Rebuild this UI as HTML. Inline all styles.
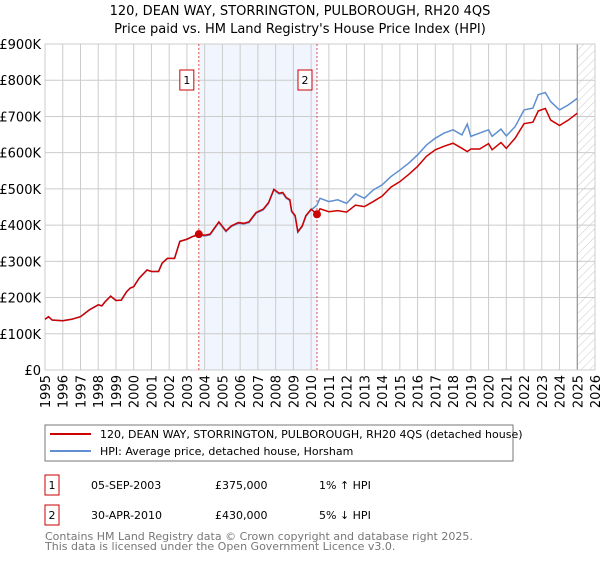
<!DOCTYPE html>
<html><head><meta charset="utf-8"><style>
body{margin:0;background:#fff;font-family:"DejaVu Sans","Liberation Sans",sans-serif}
svg text{font-family:"DejaVu Sans","Liberation Sans",sans-serif}
</style></head><body>
<svg width="600" height="560" viewBox="0 0 600 560" xmlns="http://www.w3.org/2000/svg">
<defs><pattern id="hatch" width="6" height="6" patternUnits="userSpaceOnUse" patternTransform="rotate(45)"><line x1="0" y1="0" x2="0" y2="6" stroke="#bbb" stroke-width="0.8"/></pattern></defs>
<text x="300" y="15" text-anchor="middle" font-size="13">120, DEAN WAY, STORRINGTON, PULBOROUGH, RH20 4QS</text>
<text x="300" y="33" text-anchor="middle" font-size="13">Price paid vs. HM Land Registry's House Price Index (HPI)</text>
<g id="plot"></g>
<rect x="45" y="425" width="468" height="36" fill="none" stroke="#777"/>
<line x1="50" y1="434" x2="91" y2="434" stroke="#cc0000" stroke-width="2"/>
<text x="100" y="438" font-size="11">120, DEAN WAY, STORRINGTON, PULBOROUGH, RH20 4QS (detached house)</text>
<line x1="50" y1="451" x2="91" y2="451" stroke="#5f8fd0" stroke-width="2"/>
<text x="100" y="455" font-size="11">HPI: Average price, detached house, Horsham</text>
<g font-size="11">
<rect x="45" y="475" width="14" height="20" fill="none" stroke="#cc0000"/>
<text x="52" y="489" text-anchor="middle">1</text>
<text x="91" y="489">05-SEP-2003</text>
<text x="215" y="489">£375,000</text>
<text x="319" y="489">1% ↑ HPI</text>
<rect x="45" y="505" width="14" height="20" fill="none" stroke="#cc0000"/>
<text x="52" y="519" text-anchor="middle">2</text>
<text x="91" y="519">30-APR-2010</text>
<text x="215" y="519">£430,000</text>
<text x="319" y="519">5% ↓ HPI</text>
</g>
<text x="45" y="540" font-size="11" fill="#777">Contains HM Land Registry data © Crown copyright and database right 2025.</text>
<text x="45" y="550" font-size="11" fill="#777">This data is licensed under the Open Government Licence v3.0.</text>
</svg>
<script>
const hpiYears=[1995,1995.2,1995.4,1996,1996.5,1997,1997.5,1998,1998.2,1998.4,1998.7,1999,1999.3,1999.6,1999.8,2000,2000.3,2000.75,2001,2001.4,2001.6,2001.9,2002.3,2002.6,2003,2003.3,2003.67,2004,2004.3,2004.8,2005.2,2005.5,2005.9,2006.2,2006.5,2006.9,2007.3,2007.6,2007.9,2008.2,2008.4,2008.6,2008.8,2008.9,2009.1,2009.25,2009.5,2009.7,2010,2010.33,2010.5,2011,2011.5,2012,2012.5,2013,2013.5,2014,2014.5,2015,2015.5,2016,2016.5,2017,2017.5,2018,2018.5,2018.8,2019,2019.5,2020,2020.2,2020.7,2021,2021.5,2022,2022.5,2022.8,2023.2,2023.5,2024,2024.5,2025];
const hpiValues=[140,147,138,136,140,147,166,180,177,189,204,192,193,216,226,230,253,276,272,272,295,308,308,355,361,368,372,370,373,407,382,396,405,403,407,433,442,460,497,486,488,474,468,437,424,380,396,424,442,455,474,465,470,460,486,474,497,511,534,552,571,594,621,640,654,663,649,679,645,654,663,645,665,646,672,718,723,760,766,741,718,732,750];
const priceYears=hpiYears;
const priceValues=[140,147,138,136,140,147,166,180,177,189,204,192,193,216,226,230,253,276,272,272,295,308,308,355,361,368,375,372,375,409,384,398,407,405,409,435,444,462,499,488,490,476,470,439,426,382,398,426,444,430,445,437,440,436,455,451,465,480,505,520,540,562,590,608,618,626,612,603,610,610,625,608,628,612,640,680,684,715,722,690,675,690,709];
const saleYears=[2003.67,2010.33];
const saleValues=[375,430];
const yTicks=[0,100,200,300,400,500,600,700,800,900];
const yTickLabels=["£0","£100K","£200K","£300K","£400K","£500K","£600K","£700K","£800K","£900K"];
const xTicks=[1995,1996,1997,1998,1999,2000,2001,2002,2003,2004,2005,2006,2007,2008,2009,2010,2011,2012,2013,2014,2015,2016,2017,2018,2019,2020,2021,2022,2023,2024,2025,2026];
const NS="http://www.w3.org/2000/svg";
const L=45,R=595,T=44,B=370;
const xS=y=>L+(y-1995)/(2026-1995)*(R-L);
const yS=v=>B-v/900*(B-T);
const g=document.getElementById('plot');
function mk(tag,attrs){const e=document.createElementNS(NS,tag);for(const k in attrs)e.setAttribute(k,attrs[k]);g.appendChild(e);return e;}
let e;
e=mk('rect',{x:xS(saleYears[0]),y:T,width:xS(saleYears[1])-xS(saleYears[0]),height:B-T,fill:'#eef2fc',opacity:0.8});


e=mk('rect',{x:xS(2025),y:T,width:R-xS(2025),height:B-T,fill:'url(#hatch)'});


yTicks.forEach((v,i)=>{
 e=mk('line',{x1:L,x2:R,y1:yS(v),y2:yS(v),stroke:'#ccc'});
 
 
 e=mk('text',{x:L-4,y:yS(v)+5,'text-anchor':'end','font-size':'13'});e.textContent=yTickLabels[i];
 
 
});
xTicks.forEach(y=>{
 e=mk('line',{x1:xS(y),x2:xS(y),y1:T,y2:B,stroke:'#ccc'});
 
 
 const x=xS(y)+5,yy=B+5;
 e=mk('text',{x:x,y:yy,'text-anchor':'end','font-size':'13',transform:`rotate(-90 ${x} ${yy})`});e.textContent=y;
 
 
});
e=mk('line',{x1:xS(2025),x2:xS(2025),y1:T,y2:B,stroke:'#888'});


e=mk('rect',{x:L,y:T,width:R-L,height:B-T,fill:'none',stroke:'#ccc'});


saleYears.forEach((y,i)=>{
 e=mk('line',{x1:xS(y),x2:xS(y),y1:T,y2:B,stroke:'#e05050','stroke-dasharray':'2,2','stroke-width':1});
 
 
});
e=mk('polyline',{points:hpiYears.map((y,i)=>xS(y)+','+yS(hpiValues[i])).join(' '),fill:'none',stroke:'#5f8fd0','stroke-width':1.5});


e=mk('polyline',{points:priceYears.map((y,i)=>xS(y)+','+yS(priceValues[i])).join(' '),fill:'none',stroke:'#cc0000','stroke-width':1.5});


saleYears.forEach((y,i)=>{
 e=mk('circle',{cx:xS(y),cy:yS(saleValues[i]),r:4,fill:'#cc0000'});
 
 
 const bx=xS(y)-12;
 e=mk('rect',{x:bx-7,y:70,width:14,height:20,fill:'#fff',stroke:'#cc0000'});
 
 
 e=mk('text',{x:bx,y:84,'text-anchor':'middle','font-size':'11'});e.textContent=String(i+1);
 
 
});
</script>
</body></html>
